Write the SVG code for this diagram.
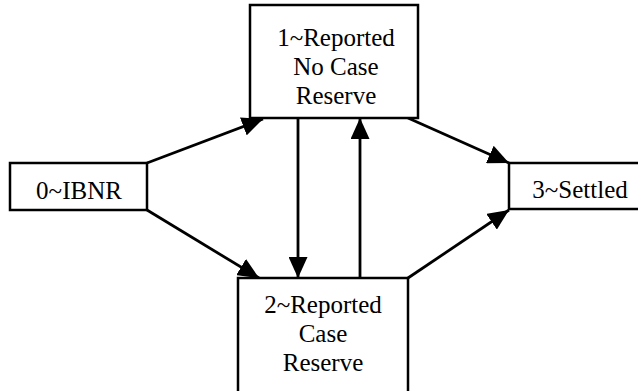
<svg xmlns="http://www.w3.org/2000/svg" width="638" height="391" viewBox="0 0 638 391">
  <style>
    .box { fill: #ffffff; stroke: #000000; stroke-width: 2.5; }
    .label { font-family: "Liberation Serif", "Times New Roman", serif; font-size: 25px; fill: #000000; text-anchor: middle; }
    .edge { fill: none; stroke: #000000; stroke-width: 2.8; marker-end: url(#arrow); }
  </style>
  <defs>
    <marker id="arrow" markerUnits="userSpaceOnUse" markerWidth="21" markerHeight="19" refX="21" refY="9.5" orient="auto">
      <path d="M0,0 L21,9.5 L0,19 Z" fill="#000000"/>
    </marker>
  </defs>
  <rect width="638" height="391" fill="#ffffff"/>

  <!-- transitions between claim states -->
  <g id="connectors">
    <line class="edge" x1="147" y1="163" x2="263" y2="119"/>
    <line class="edge" x1="147" y1="210" x2="259" y2="278"/>
    <line class="edge" x1="298" y1="118" x2="298" y2="278"/>
    <line class="edge" x1="360" y1="278" x2="360" y2="118"/>
    <line class="edge" x1="408" y1="118" x2="509" y2="163"/>
    <line class="edge" x1="408" y1="278" x2="509" y2="210"/>
  </g>

  <g id="state0">
    <rect class="box" x="10" y="163" width="137" height="47"/>
    <text class="label" x="79" y="199">0~IBNR</text>
  </g>

  <g id="state1">
    <rect class="box" x="250" y="5" width="168" height="113"/>
    <text class="label" x="336" y="46">1~Reported</text>
    <text class="label" x="336" y="75">No Case</text>
    <text class="label" x="336" y="104">Reserve</text>
  </g>

  <g id="state2">
    <rect class="box" x="238" y="278" width="170" height="120"/>
    <text class="label" x="323" y="313">2~Reported</text>
    <text class="label" x="323" y="342">Case</text>
    <text class="label" x="323" y="371">Reserve</text>
  </g>

  <g id="state3">
    <rect class="box" x="509" y="163" width="142" height="46"/>
    <text class="label" x="580" y="198">3~Settled</text>
  </g>
</svg>
